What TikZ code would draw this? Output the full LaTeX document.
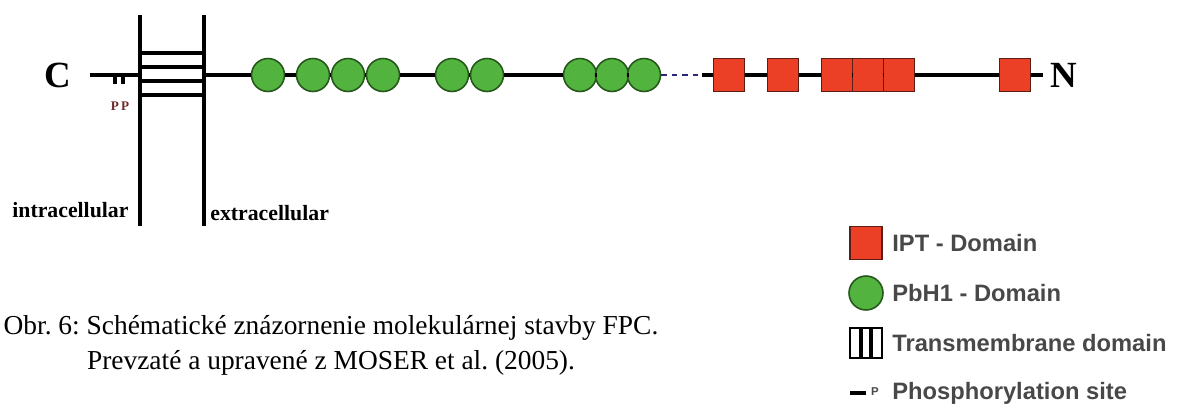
\documentclass[tikz,border=0pt]{standalone}
\usepackage{fontspec}
\setmainfont{Liberation Serif}
\newfontfamily\legendfont{Liberation Sans}
\usetikzlibrary{positioning}
\definecolor{pbhgreen}{RGB}{82,180,62}
\definecolor{pbhedge}{RGB}{38,88,28}
\definecolor{iptred}{RGB}{236,64,38}
\definecolor{iptedge}{RGB}{90,30,20}
\definecolor{legendgray}{RGB}{72,72,72}
\definecolor{linkblue}{RGB}{40,40,120}
\definecolor{pred}{RGB}{110,40,40}
\frenchspacing

\begin{document}
\begin{tikzpicture}[x=0.02cm,y=-0.02cm,
   pbh/.style={circle, draw=pbhedge, fill=pbhgreen, line width=0.9pt, minimum size=0.66cm, inner sep=0pt},
   ipt/.style={rectangle, draw=iptedge, fill=iptred, line width=0.9pt, minimum width=0.62cm, minimum height=0.66cm, inner sep=0pt},
   term/.style={font=\bfseries\fontsize{21}{21}\selectfont, inner sep=0pt},
   side/.style={anchor=west, inner sep=0pt, font=\bfseries\fontsize{12.4}{13}\selectfont},
   legtext/.style={anchor=west, inner sep=0pt, text=legendgray, font=\legendfont\bfseries\fontsize{13.5}{14}\selectfont},
   caption/.style={inner sep=0pt, font=\fontsize{15.6}{16}\selectfont},
   backbone/.style={line width=2.2pt},
   membrane/.style={line width=2.8pt},
   tmbar/.style={line width=1.8pt}]
  \useasboundingbox (0,0) rectangle (1200,415);

  % termini
  \node[term] (C) at (58,75) {C};
  \node[term] (N) at (1064,75) {N};
  \coordinate (cstart) at (90,75);
  \coordinate (nend) at (1043,75);

  % transmembrane part
  \coordinate (tmL) at (140,75);
  \coordinate (tmR) at (204,75);
  \draw[membrane] (140,15) -- (140,226);
  \draw[membrane] (204,15) -- (204,226);
  \draw[membrane] (140,53) -- (204,53);
  \draw[tmbar] (140,67) -- (204,67);
  \draw[tmbar] (140,81) -- (204,81);
  \draw[membrane] (140,95) -- (204,95);

  % phosphorylation sites
  \draw[backbone] (cstart) -- (tmL);
  \draw[line width=2pt] (115,75) -- (115,84);
  \draw[line width=2pt] (123,75) -- (123,84);
  \node[text=pred, font=\bfseries\fontsize{7.5}{8}\selectfont] (pp) at (120,106) {P\,P};

  \node[side] (intra) at (12,210) {intracellular};
  \node[side] (extra) at (210,213) {extracellular};

  % PbH1 domains
  \node[pbh] (pb1) at (268,75) {};
  \node[pbh] (pb2) at (313,75) {};
  \node[pbh] (pb3) at (348,75) {};
  \node[pbh] (pb4) at (383,75) {};
  \node[pbh] (pb5) at (452,75) {};
  \node[pbh] (pb6) at (487,75) {};
  \node[pbh] (pb7) at (580,75) {};
  \node[pbh] (pb8) at (612,75) {};
  \node[pbh] (pb9) at (644,75) {};

  % IPT domains
  \node[ipt] (ipt1) at (729,75) {};
  \node[ipt] (ipt2) at (783,75) {};
  \node[ipt] (ipt3) at (837,75) {};
  \node[ipt] (ipt4) at (868,75) {};
  \node[ipt] (ipt5) at (899,75) {};
  \node[ipt] (ipt6) at (1015,75) {};
  \coordinate (lnk) at (702,75);

  \draw[backbone] (tmR) -- (pb1) -- (pb2) -- (pb3) -- (pb4) -- (pb5) -- (pb6) -- (pb7) -- (pb8) -- (pb9);
  \draw[linkblue, line width=0.8pt, dashed] (pb9) -- (lnk);
  \draw[backbone] (lnk) -- (ipt1) -- (ipt2) -- (ipt3) -- (ipt4) -- (ipt5) -- (ipt6) -- (nend);

  % legend
  \node[ipt, minimum width=0.64cm, minimum height=0.66cm] (legipt) at (866,243) {};
  \node[pbh, minimum size=0.68cm] (legpbh) at (866,293) {};
  \node[rectangle, draw, line width=1.2pt, minimum width=0.64cm, minimum height=0.6cm] (legtm) at (866,343) {};
  \draw[tmbar] ([xshift=-0.1cm]legtm.north) -- ([xshift=-0.1cm]legtm.south);
  \draw[tmbar] ([xshift=0.1cm]legtm.north) -- ([xshift=0.1cm]legtm.south);
  \coordinate (legdashL) at (850,393);
  \coordinate (legdashR) at (866,393);
  \draw[line width=2.4pt] (legdashL) -- (legdashR);
  \node[text=legendgray, font=\legendfont\bfseries\fontsize{6.5}{7}\selectfont] (legP) at (875,392) {P};

  \node[legtext] (legiptt) at (892,243) {IPT - Domain};
  \node[legtext] (legpbht) at (892,293) {PbH1 - Domain};
  \node[legtext] (legtmt) at (892,343) {Transmembrane domain};
  \node[legtext] (legpt) at (892,393) {Phosphorylation site};

  % caption
  \node[caption] (cap1) at (331,328) {Obr. 6: Schématické znázornenie molekulárnej stavby FPC.};
  \node[caption] (cap2) at (331,363) {Prevzaté a upravené z MOSER et al. (2005).};
\end{tikzpicture}
\end{document}
